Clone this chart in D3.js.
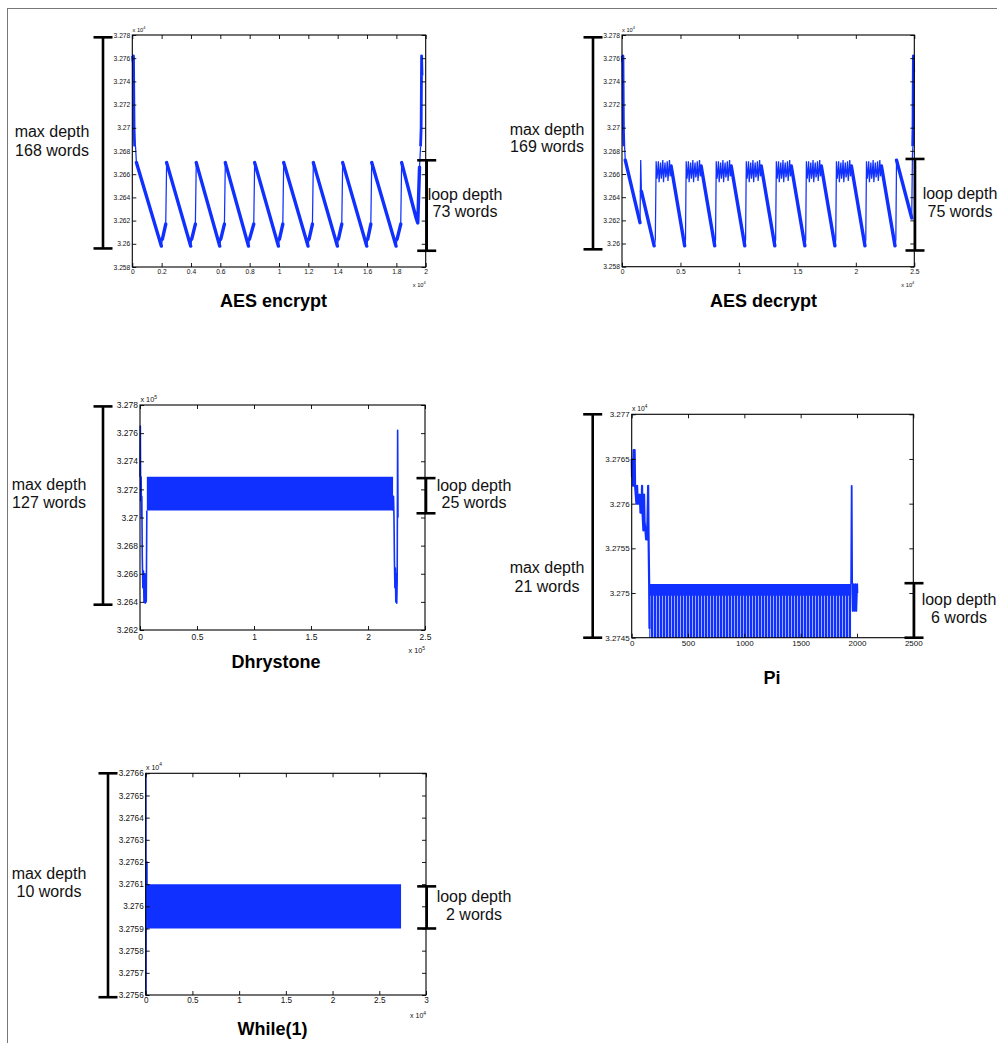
<!DOCTYPE html>
<html><head><meta charset="utf-8">
<script src="https://cdn.jsdelivr.net/npm/d3@7"></script>
<style>body{margin:0;background:#fff}svg{display:block}</style>
</head><body>
<svg id="c" width="997" height="1043"></svg>
<script>
// ================= DATA =================
// AES encrypt  (x: samples ×10^4, y: stack address ×10^4)
const encXTicks = [0,0.2,0.4,0.6,0.8,1,1.2,1.4,1.6,1.8,2];
const encYTicks = [3.258,3.26,3.262,3.264,3.266,3.268,3.27,3.272,3.274,3.276,3.278];
const encStartSpike = [[0.002,3.2762],[0.005,3.2757],[0.008,3.2762],[0.012,3.2700],[0.016,3.2684]];
const encTrace = [
  [0.016,3.2684],[0.022,3.2684],[0.028,3.2670],
  [0.198,3.2598],[0.205,3.2604],[0.228,3.2617],[0.234,3.2670],
  [0.398,3.2598],[0.405,3.2604],[0.430,3.2617],[0.436,3.2670],
  [0.596,3.2598],[0.603,3.2604],[0.628,3.2617],[0.634,3.2670],
  [0.792,3.2598],[0.799,3.2604],[0.828,3.2617],[0.834,3.2670],
  [0.996,3.2598],[1.003,3.2604],[1.026,3.2617],[1.032,3.2670],
  [1.198,3.2598],[1.205,3.2604],[1.228,3.2617],[1.234,3.2670],
  [1.398,3.2598],[1.405,3.2604],[1.428,3.2617],[1.434,3.2670],
  [1.598,3.2598],[1.605,3.2604],[1.626,3.2617],[1.632,3.2670],
  [1.798,3.2598],[1.805,3.2604],[1.830,3.2617],[1.836,3.2670],
  [1.935,3.2622],[1.946,3.2618],[1.958,3.2666],[1.965,3.2684]
];
const encEndSpike = [[1.965,3.2684],[1.969,3.2700],[1.972,3.2762],[1.975,3.2745]];
const encMaxBracket = [3.2596, 3.2778];
const encLoopBracket = [3.2594, 3.2672];

// AES decrypt
const decXTicks = [0,0.5,1,1.5,2,2.5];
const decYTicks = [3.258,3.26,3.262,3.264,3.266,3.268,3.27,3.272,3.274,3.276,3.278];
const decStartSpike = [[0.002,3.2762],[0.005,3.2757],[0.008,3.2762],[0.012,3.2700],[0.016,3.2684]];
const decHead = [[0.016,3.2684],[0.022,3.2684],[0.028,3.2672],
  [0.154,3.2618],[0.16,3.2672],[0.166,3.2645],[0.275,3.2598],[0.285,3.2603]];
const decPlateauStart = [0.292,0.549,0.806,1.063,1.320,1.577,1.834,2.091];
const decPlateauComb = [[0,3.2671],[0.007,3.2656],[0.013,3.2662],[0.019,3.2671],[0.025,3.2653],[0.031,3.2661],
  [0.038,3.2670],[0.044,3.2656],[0.05,3.2661],[0.057,3.2672],[0.063,3.2653],[0.069,3.2662],[0.076,3.2670],
  [0.082,3.2657],[0.088,3.2660],[0.095,3.2671],[0.101,3.2654],[0.107,3.2662],[0.114,3.2672],[0.12,3.2658],[0.128,3.2667]];
const decMins = [[0.536,3.2598],[0.793,3.2598],[1.050,3.2598],[1.307,3.2598],[1.564,3.2598],[1.821,3.2598],[2.078,3.2598],[2.335,3.2598]];
const decTail = [[2.348,3.2672],[2.478,3.2622],[2.484,3.2676],[2.488,3.2684]];
const decEndSpike = [[2.486,3.2684],[2.489,3.2700],[2.492,3.2762],[2.495,3.2748]];
const decMaxBracket = [3.2595, 3.2778];
const decLoopBracket = [3.2594, 3.2673];

// Dhrystone  (x ×10^5)
const dhryXTicks = [0,0.5,1,1.5,2,2.5];
const dhryYTicks = [3.262,3.264,3.266,3.268,3.27,3.272,3.274,3.276,3.278];
const dhryHead = [[0,3.2729],[0.003,3.2765],[0.006,3.2712],[0.01,3.2729],[0.013,3.2700],[0.016,3.2715],
  [0.02,3.2672],[0.025,3.2650],[0.03,3.2662],[0.035,3.2640],[0.04,3.2660],[0.045,3.2639],[0.05,3.2660],
  [0.055,3.2640],[0.06,3.2705]];
const dhryBand = [0.06, 2.22, 3.2705, 3.2729];
const dhryTail = [[2.22,3.2705],[2.224,3.2715],[2.228,3.2700],[2.232,3.2668],[2.236,3.2650],[2.24,3.2664],
  [2.244,3.2640],[2.248,3.2660],[2.252,3.2639],[2.256,3.2655],[2.26,3.2762],[2.263,3.2700]];
const dhryMaxBracket = [3.2638, 3.2779];
const dhryLoopBracket = [3.2703, 3.2728];

// Pi
const piXTicks = [0,500,1000,1500,2000,2500];
const piYTicks = [3.2745,3.275,3.2755,3.276,3.2765,3.277];
const piHead = [[0,3.2765],[3,3.2763],[8,3.2765],[12,3.2762],[17,3.2766],[22,3.2764],[26,3.2766],[30,3.2762],
  [36,3.2761],[42,3.2760],[48,3.2762],[54,3.2760],[60,3.2761],[66,3.2760],[72,3.2761],[78,3.2759],[86,3.2759],
  [92,3.2762],[96,3.2759],[104,3.2757],[110,3.2761],[114,3.2758],[122,3.2757],[128,3.2756],[134,3.2756],
  [140,3.2758],[146,3.2762],[150,3.2756],[155,3.2751],[158,3.2746]];
const piBand = [156, 1948, 3.2745, 3.2751];
const piBandTop = [156, 1948, 3.27497, 3.2751];
const piTail = [[1948,3.2751],[1953,3.2762],[1957,3.2751],[1962,3.2748],[1970,3.2751],[1978,3.2748],
  [1986,3.2751],[1994,3.2748],[2002,3.2751],[2004,3.2750]];
const piMaxBracket = [3.2745, 3.2770];
const piLoopBracket = [3.2745, 3.27511];

// While(1)  (x ×10^4)
const whXTicks = [0,0.5,1,1.5,2,2.5,3];
const whYTicks = [3.2756,3.2757,3.2758,3.2759,3.276,3.2761,3.2762,3.2763,3.2764,3.2765,3.2766];
const whHead = [[0.002,3.2766],[0.004,3.2756],[0.007,3.2762],[0.014,3.2762],[0.016,3.2759],[0.02,3.2761]];
const whBand = [0.02, 2.733, 3.2759, 3.2761];
const whMaxBracket = [3.27559, 3.2766];
const whLoopBracket = [3.2759, 3.27609];

const titles = ["AES encrypt","AES decrypt","Dhrystone","Pi","While(1)"];
const maxLabels = [["max depth","168 words"],["max depth","169 words"],["max depth","127 words"],["max depth","21 words"],["max depth","10 words"]];
const loopLabels = [["loop depth","73 words"],["loop depth","75 words"],["loop depth","25 words"],["loop depth","6 words"],["loop depth","2 words"]];
const xExponents = ["4","4","5",null,"4"];

// build decrypt trace from pieces
const decTrace = decHead.slice();
decPlateauStart.forEach((s,i) => {
  decPlateauComb.forEach(([dx,v]) => decTrace.push([s+dx, v]));
  decTrace.push(decMins[i]);
  decTrace.push([decMins[i][0]+0.007, decMins[i][1]+0.0005]);
});
decTail.forEach(p => decTrace.push(p));

// ================= DRAWING =================
const BLUE = "#1030ff";
const FONT = "'Liberation Sans', Arial, Helvetica, sans-serif";
const svg = d3.select("#c");

const defs = svg.append("defs");
const pat = defs.append("pattern").attr("id","stripes").attr("patternUnits","userSpaceOnUse")
  .attr("width",3).attr("height",10);
pat.append("rect").attr("width",2.4).attr("height",10).attr("fill",BLUE);

// page frame
svg.append("line").attr("x1",7).attr("x2",997).attr("y1",8.5).attr("y2",8.5).attr("stroke","#777");
svg.append("line").attr("x1",7.5).attr("x2",7.5).attr("y1",8).attr("y2",1043).attr("stroke","#777");

const panels = [
  {L:132.3,R:425.7,T:35,B:267, xd:[0,2], yd:[3.258,3.278], xt:encXTicks, yt:encYTicks, fs:6.7, xpad:2.5,
   lines:[{pts:encTrace, noisy:true},{pts:encStartSpike, w:2.8},{pts:encEndSpike, w:2.8}], bands:[],
   maxB:encMaxBracket, loopB:encLoopBracket, bxL:103, bxR:426.7,
   maxTxt:[52,137,156], loopTxt:[465,200,217], title:[273.5,306.5], expTop:[132.5,31.5], expBot:[425.7,287]},
  {L:622,R:914.3,T:35,B:266.7, xd:[0,2.5], yd:[3.258,3.278], xt:decXTicks, yt:decYTicks, fs:6.7, xpad:2.5,
   lines:[{pts:decTrace, noisy:true},{pts:decStartSpike, w:2.8},{pts:decEndSpike, w:2.8}], bands:[],
   maxB:decMaxBracket, loopB:decLoopBracket, bxL:593, bxR:915,
   maxTxt:[547,135,152], loopTxt:[960,199,217], title:[763.5,306.5], expTop:[622,31.5], expBot:[914.3,287]},
  {L:140,R:425,T:405,B:630, xd:[0,2.5], yd:[3.262,3.278], xt:dhryXTicks, yt:dhryYTicks, fs:8.5, xpad:3.5,
   lines:[{pts:dhryHead, w:1.6},{pts:dhryTail, w:1.6}], bands:[{b:dhryBand, fill:BLUE}],
   maxB:dhryMaxBracket, loopB:dhryLoopBracket, bxL:103, bxR:426,
   maxTxt:[49,490,508], loopTxt:[474,491,508], title:[276,668], expTop:[140.5,402], expBot:[425,653]},
  {L:631.7,R:913.3,T:414.3,B:637.7, xd:[0,2500], yd:[3.2745,3.277], xt:piXTicks, yt:piYTicks, fs:8, xpad:2.5,
   lines:[{pts:piHead, w:2.2},{pts:piTail, w:1.8}], bands:[{b:piBand, fill:"url(#stripes)"},{b:piBandTop, fill:BLUE}],
   maxB:piMaxBracket, loopB:piLoopBracket, bxL:592.7, bxR:914,
   maxTxt:[547,573,592], loopTxt:[959,605,623], title:[772,683.5], expTop:[632,411], expBot:null},
  {L:145.7,R:426,T:773.3,B:995, xd:[0,3], yd:[3.2756,3.2766], xt:whXTicks, yt:whYTicks, fs:8.2, xpad:2,
   lines:[{pts:whHead, w:1.4}], bands:[{b:whBand, fill:BLUE}],
   maxB:whMaxBracket, loopB:whLoopBracket, bxL:108, bxR:426.7,
   maxTxt:[49,879,897], loopTxt:[474,902,920], title:[272.5,1034.5], expTop:[146,769.5], expBot:[426,1018]}
];

const fmtY = d3.format(".4~f"), fmtX = d3.format("~g");

panels.forEach((p, i) => {
  const g = svg.append("g");
  const x = d3.scaleLinear().domain(p.xd).range([p.L, p.R]);
  const y = d3.scaleLinear().domain(p.yd).range([p.B, p.T]);

  // dense oscillation envelopes
  p.bands.forEach(bd => {
    const [x0,x1,lo,hi] = bd.b;
    const area = d3.area().x(d => x(d)).y0(y(lo)).y1(y(hi));
    g.append("path").attr("d", area([x0,x1])).attr("fill", bd.fill);
  });

  // traces
  p.lines.forEach(ln => {
    if (ln.noisy) {
      let thick = "", thin = "";
      for (let k = 1; k < ln.pts.length; k++) {
        const x0 = x(ln.pts[k-1][0]), y0 = y(ln.pts[k-1][1]);
        const x1 = x(ln.pts[k][0]), y1 = y(ln.pts[k][1]);
        const seg = `M${x0},${y0}L${x1},${y1}`;
        if (Math.abs(x1-x0) >= 1.5) thick += seg; else thin += seg;
      }
      g.append("path").attr("d", thin).attr("fill","none").attr("stroke",BLUE).attr("stroke-width",1.25);
      g.append("path").attr("d", thick).attr("fill","none").attr("stroke",BLUE)
        .attr("stroke-width",3.4).attr("stroke-linecap","round").attr("stroke-linejoin","round");
    } else {
      const line = d3.line().x(d => x(d[0])).y(d => y(d[1]));
      g.append("path").attr("d", line(ln.pts)).attr("fill","none").attr("stroke",BLUE)
        .attr("stroke-width", ln.w).attr("stroke-linejoin","round");
    }
  });

  // axes (MATLAB box style, ticks inside on all sides)
  const style = sel => {
    sel.select(".domain").remove();
    sel.selectAll(".tick line").attr("stroke","#000").attr("stroke-width",0.9);
    sel.selectAll(".tick text").attr("font-family",FONT).attr("font-size",p.fs).attr("fill","#111");
  };
  g.append("g").attr("transform",`translate(0,${p.B})`)
    .call(d3.axisBottom(x).tickValues(p.xt).tickSize(-4).tickSizeOuter(0).tickPadding(p.xpad).tickFormat(fmtX)).call(style);
  g.append("g").attr("transform",`translate(0,${p.T})`)
    .call(d3.axisTop(x).tickValues(p.xt).tickSize(-4).tickSizeOuter(0).tickFormat("")).call(style);
  g.append("g").attr("transform",`translate(${p.L},0)`)
    .call(d3.axisLeft(y).tickValues(p.yt).tickSize(-4).tickSizeOuter(0).tickPadding(2).tickFormat(fmtY)).call(style);
  g.append("g").attr("transform",`translate(${p.R},0)`)
    .call(d3.axisRight(y).tickValues(p.yt).tickSize(-4).tickSizeOuter(0).tickFormat("")).call(style);
  g.append("rect").attr("x",p.L).attr("y",p.T).attr("width",p.R-p.L).attr("height",p.B-p.T)
    .attr("fill","none").attr("stroke","#000").attr("stroke-width",1.1);

  // exponent labels
  const efs = p.fs*0.85;
  const expo = (pos, anchor) => {
    const t = g.append("text").attr("x",pos[0]).attr("y",pos[1]).attr("text-anchor",anchor)
      .attr("font-family",FONT).attr("font-size",efs).attr("fill","#111");
    t.append("tspan").text("x 10");
    t.append("tspan").attr("dy",-efs*0.45).attr("font-size",efs*0.7).text(xExponents[i] || "4");
  };
  expo(p.expTop, "start");
  if (p.expBot) expo(p.expBot, "end");

  // brackets
  const bracket = (bx, range) => {
    const yA = y(range[0]), yB = y(range[1]);
    const bg = g.append("g").attr("stroke","#000").attr("stroke-width",2.6);
    bg.append("line").attr("x1",bx).attr("x2",bx).attr("y1",yA).attr("y2",yB);
    bg.append("line").attr("x1",bx-9.5).attr("x2",bx+9.5).attr("y1",yA).attr("y2",yA);
    bg.append("line").attr("x1",bx-9.5).attr("x2",bx+9.5).attr("y1",yB).attr("y2",yB);
  };
  bracket(p.bxL, p.maxB);
  bracket(p.bxR, p.loopB);

  const label = (pos, lines) => {
    lines.forEach((s, k) => g.append("text").attr("x",pos[0]).attr("y",pos[1+k]).attr("text-anchor","middle")
      .attr("font-family",FONT).attr("font-size",16).attr("fill","#111").text(s));
  };
  label(p.maxTxt, maxLabels[i]);
  label(p.loopTxt, loopLabels[i]);

  g.append("text").attr("x",p.title[0]).attr("y",p.title[1]).attr("text-anchor","middle")
    .attr("font-family",FONT).attr("font-size",18).attr("font-weight","bold").attr("fill","#000").text(titles[i]);
});
</script>
</body></html>
